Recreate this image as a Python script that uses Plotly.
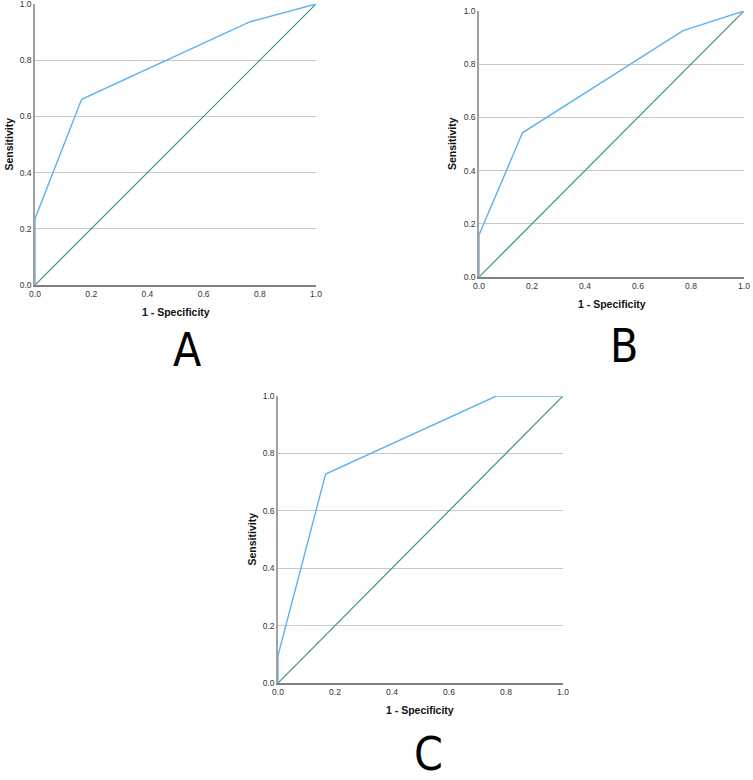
import plotly.graph_objects as go

# ROC data (1 - Specificity, Sensitivity)
fpr_a = [0.0, 0.0, 0.166, 0.766, 1.0]
tpr_a = [0.0, 0.236, 0.661, 0.937, 1.0]
fpr_b = [0.0, 0.0, 0.164, 0.770, 1.0]
tpr_b = [0.0, 0.158, 0.542, 0.926, 1.0]
fpr_c = [0.0, 0.0, 0.167, 0.766, 1.0]
tpr_c = [0.0, 0.096, 0.728, 1.0, 1.0]
ref_line = [0.0, 1.0]
tick_vals = [0.0, 0.2, 0.4, 0.6, 0.8, 1.0]
tick_text = ["0.0", "0.2", "0.4", "0.6", "0.8", "1.0"]
panel_labels = ["A", "B", "C"]

W, H = 753, 780
ROC_COLOR = "#5db3ee"
REF_COLOR = "#3f8f8a"
FONT = "Liberation Sans, Arial, sans-serif"

# plot areas in pixels: (x0, x1, y0_top, y1_bottom)
areas = [(35, 316, 4, 285), (479, 744, 11, 277), (278, 563, 396, 683)]
series = [(fpr_a, tpr_a), (fpr_b, tpr_b), (fpr_c, tpr_c)]
letter_pos = [(187, 350), (624, 346), (428, 754)]

fig = go.Figure()
annotations = []
layout_axes = {}
for i, ((x0, x1, yt, yb), (fx, ty)) in enumerate(zip(areas, series)):
    n = "" if i == 0 else str(i + 1)
    xa, ya = "x" + n, "y" + n
    fig.add_trace(go.Scatter(x=ref_line, y=ref_line, mode="lines",
                             line=dict(color=REF_COLOR, width=1.2),
                             xaxis=xa, yaxis=ya, showlegend=False, hoverinfo="skip"))
    fig.add_trace(go.Scatter(x=fx, y=ty, mode="lines",
                             line=dict(color=ROC_COLOR, width=1.4),
                             xaxis=xa, yaxis=ya, showlegend=False))
    layout_axes["xaxis" + n] = dict(
        domain=[x0 / W, x1 / W], anchor=ya, range=[0, 1], automargin=False,
        tickvals=tick_vals, ticktext=tick_text, showgrid=False, zeroline=False,
        showline=True, linecolor="#808080", linewidth=1.5, ticks="",
        ticklabeloverflow="allow",
        tickfont=dict(size=8.5, color="#333333", family=FONT), fixedrange=True)
    layout_axes["yaxis" + n] = dict(
        domain=[1 - yb / H, 1 - yt / H], anchor=xa, range=[0, 1], automargin=False,
        tickvals=tick_vals, ticktext=tick_text, showgrid=True,
        gridcolor="#c8c8c8", gridwidth=1, zeroline=False,
        showline=True, linecolor="#a0a0a0", linewidth=1.5, ticks="",
        ticklabeloverflow="allow",
        tickfont=dict(size=8.5, color="#333333", family=FONT), fixedrange=True)
    # axis titles
    annotations.append(dict(text="<b>1 - Specificity</b>", xref="paper", yref="paper",
                            x=(x0 + x1) / 2 / W, y=1 - (yb + 27) / H,
                            showarrow=False, xanchor="center", yanchor="middle",
                            font=dict(size=10.5, color="#111111", family=FONT)))
    annotations.append(dict(text="<b>Sensitivity</b>", xref="paper", yref="paper",
                            x=(x0 - 27) / W, y=1 - (yt + yb) / 2 / H,
                            showarrow=False, xanchor="center", yanchor="middle",
                            textangle=-90,
                            font=dict(size=10.5, color="#111111", family=FONT)))
    lx, ly = letter_pos[i]
    annotations.append(dict(text=panel_labels[i], xref="paper", yref="paper",
                            x=lx / W, y=1 - ly / H, showarrow=False,
                            xanchor="center", yanchor="middle",
                            font=dict(size=46, color="#000000",
                                      family="Liberation Sans Narrow, DejaVu Sans Condensed, Liberation Sans, sans-serif")))

fig.update_layout(width=W, height=H, margin=dict(l=0, r=0, t=0, b=0),
                  paper_bgcolor="white", plot_bgcolor="white",
                  annotations=annotations, **layout_axes)

fig.write_html("out.html", config={"displayModeBar": False},
               post_script="document.body.style.margin='0';document.body.style.padding='0';")
